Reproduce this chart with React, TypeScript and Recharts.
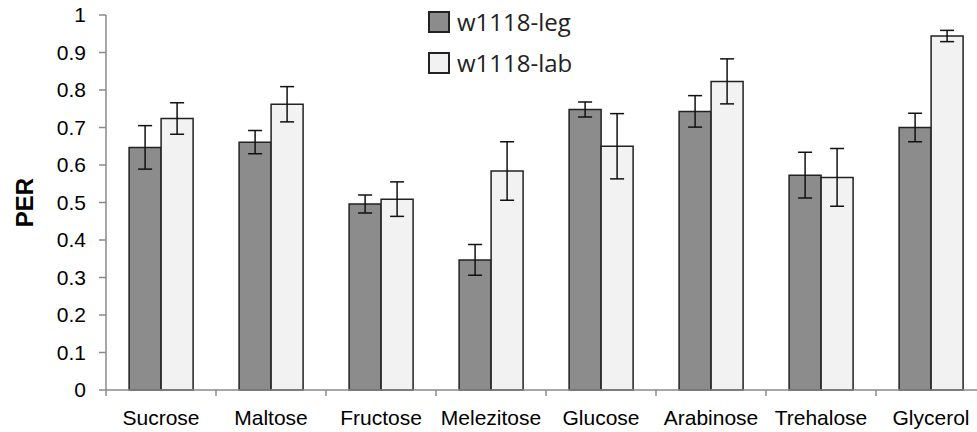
import { BarChart, Bar, XAxis, YAxis, ErrorBar } from 'recharts';

const sugars = ['Sucrose', 'Maltose', 'Fructose', 'Melezitose', 'Glucose', 'Arabinose', 'Trehalose', 'Glycerol'];
const legValues = [0.647, 0.661, 0.496, 0.347, 0.748, 0.743, 0.573, 0.7];
const legErrors = [0.058, 0.031, 0.024, 0.041, 0.02, 0.042, 0.061, 0.038];
const labValues = [0.724, 0.762, 0.509, 0.584, 0.65, 0.823, 0.567, 0.944];
const labErrors = [0.042, 0.047, 0.046, 0.078, 0.087, 0.06, 0.077, 0.015];
const yTicks = [0, 0.1, 0.2, 0.3, 0.4, 0.5, 0.6, 0.7, 0.8, 0.9, 1];
const seriesNames = ['w1118-leg', 'w1118-lab'];

const LEG_FILL = '#8c8c8c';
const LAB_FILL = '#f2f2f2';
const AXIS_GRAY = '#8a8a8a';

const data = sugars.map((name, i) => ({
  name,
  leg: legValues[i],
  legErr: legErrors[i],
  lab: labValues[i],
  labErr: labErrors[i],
}));

// label centred on the band, tick mark on the band's left edge
function SugarTick(props: any) {
  const { x, y, payload, bandWidth } = props;
  const left = x - bandWidth / 2;
  return (
    <g>
      <line x1={left} y1={y - 20} x2={left} y2={y - 14} stroke={AXIS_GRAY} strokeWidth={1.5} />
      <text x={x} y={y} dy="0.71em" textAnchor="middle" fontSize={21} fill="#000" fontFamily="'Liberation Sans', Arial, sans-serif">
        {payload.value}
      </text>
    </g>
  );
}

function PerLabel(props: any) {
  const { viewBox } = props;
  const cx = viewBox.x + 24;
  const cy = viewBox.y + viewBox.height / 2;
  return (
    <text x={cx} y={cy} transform={`rotate(-90, ${cx}, ${cy})`} textAnchor="middle" dominantBaseline="central"
      fontSize={24} fontWeight="bold" fill="#000" fontFamily="'Liberation Sans', Arial, sans-serif">
      PER
    </text>
  );
}

function LegendBox() {
  const fills = [LEG_FILL, LAB_FILL];
  return (
    <div style={{ position: 'absolute', left: 428, top: 1, fontFamily: "'Open Sans', sans-serif", fontSize: 24, color: '#222' }}>
      {seriesNames.map((s, i) => (
        <div key={s} style={{ display: 'flex', alignItems: 'center', height: 41 }}>
          <span style={{ display: 'inline-block', width: 18, height: 18, background: fills[i], border: '2px solid #222', marginRight: 7 }} />
          <span>{s}</span>
        </div>
      ))}
    </div>
  );
}

export default function App() {
  const width = 990;
  const left = 106;
  const right = 4;
  const bandWidth = (width - left - right) / sugars.length;
  return (
    <div style={{ position: 'absolute', left: 0, top: 0, width: 977, height: 432, overflow: 'hidden', background: '#fff' }}>
      <BarChart width={width} height={432} data={data} margin={{ top: 15, right, bottom: 0, left: 0 }}
        barCategoryGap="21%" barGap={0}>
        <XAxis dataKey="name" height={42} axisLine={{ stroke: AXIS_GRAY, strokeWidth: 1.5 }} tickLine={false}
          tickMargin={14} interval={0} tick={(p: any) => <SugarTick {...p} bandWidth={bandWidth} />} />
        <YAxis width={106} domain={[0, 1]} ticks={yTicks} interval={0} tickSize={7} tickMargin={13}
          axisLine={{ stroke: AXIS_GRAY, strokeWidth: 1.5 }} tickLine={{ stroke: AXIS_GRAY, strokeWidth: 1.5 }}
          tick={{ fontSize: 21, fill: '#000', fontFamily: "'Liberation Sans', Arial, sans-serif" }}
          label={<PerLabel />} />
        <Bar dataKey="leg" name={seriesNames[0]} fill={LEG_FILL} stroke="#222" strokeWidth={1.5} isAnimationActive={false}>
          <ErrorBar dataKey="legErr" width={7} stroke="#111" strokeWidth={1.5} />
        </Bar>
        <Bar dataKey="lab" name={seriesNames[1]} fill={LAB_FILL} stroke="#222" strokeWidth={1.5} isAnimationActive={false}>
          <ErrorBar dataKey="labErr" width={7} stroke="#111" strokeWidth={1.5} />
        </Bar>
      </BarChart>
      <LegendBox />
    </div>
  );
}
